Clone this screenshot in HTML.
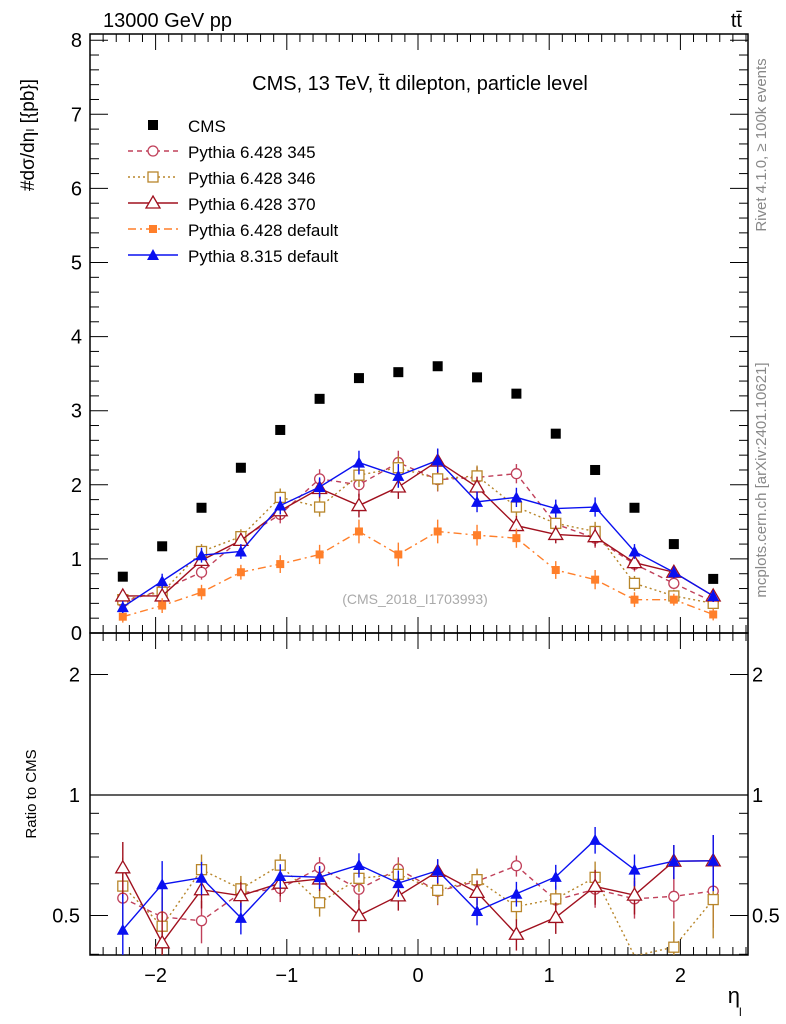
<!DOCTYPE html>
<html><head><meta charset="utf-8"><style>
html,body{margin:0;padding:0;background:#fff;width:786px;height:1024px;overflow:hidden;font-family:"Liberation Sans",sans-serif}
svg{display:block}
svg text{font-family:"Liberation Sans",sans-serif}
</style></head><body>
<svg id="c" width="786" height="1024"></svg>
<script>
const xs=[-2.25,-1.95,-1.65,-1.35,-1.05,-0.75,-0.45,-0.15,0.15,0.45,0.75,1.05,1.35,1.65,1.95,2.25];
const cms=[0.76,1.17,1.69,2.23,2.74,3.16,3.44,3.52,3.60,3.45,3.23,2.69,2.20,1.69,1.20,0.73];
const p345=[0.42,0.58,0.82,1.27,1.60,2.08,2.00,2.30,2.07,2.10,2.15,1.47,1.28,0.93,0.67,0.42];
const p346=[0.45,0.55,1.10,1.30,1.83,1.70,2.13,2.23,2.08,2.12,1.70,1.48,1.37,0.67,0.50,0.40];
const p370=[0.50,0.50,0.98,1.25,1.65,1.95,1.72,1.97,2.32,1.97,1.45,1.33,1.30,0.95,0.82,0.50];
const p6d=[0.22,0.37,0.55,0.82,0.93,1.06,1.37,1.06,1.37,1.32,1.28,0.85,0.72,0.45,0.45,0.25];
const p8=[0.35,0.70,1.05,1.10,1.72,1.97,2.30,2.12,2.33,1.77,1.83,1.68,1.70,1.10,0.82,0.50];
const errs=[0.08,0.1,0.1,0.1,0.12,0.13,0.16,0.16,0.16,0.14,0.13,0.12,0.13,0.1,0.08,0.08];
const yTicks=[0,1,2,3,4,5,6,7,8];
const xTicks=[-2,-1,0,1,2];
const xTickLabels=["\u22122","\u22121","0","1","2"];
const rTicks=[0.5,1,2];

const S=document.getElementById('c'),NS='http://www.w3.org/2000/svg';
const L=90,R=748,T=34,B=633,RB=955;
const X=v=>418+v*131.2;
const Y=v=>633-v*74.1;
const RY=v=>795-Math.log2(v)*120.5;
function el(t,a,p){const e=document.createElementNS(NS,t);for(const k in a)e.setAttribute(k,a[k]);(p||S).appendChild(e);return e;}
function tx(x,y,s,o,p){const e=el('text',Object.assign({x:x,y:y,'font-size':20,fill:'#000'},o||{}),p);e.textContent=s;return e;}

const f1=el('rect',{x:L,y:T,width:R-L,height:B-T,fill:'none',stroke:'#000','stroke-width':1.5});

const f2=el('rect',{x:L,y:B,width:R-L,height:RB-B,fill:'none',stroke:'#000','stroke-width':1.5});

el('line',{x1:L,x2:R,y1:RY(1),y2:RY(1),stroke:'#000','stroke-width':1.2});

for(let v=-2.5;v<=2.5001;v+=0.1){const x=X(v);if(x<L||x>R)continue;const maj=Math.abs(v-Math.round(v))<1e-6;const h=maj?16:8;
 el('line',{x1:x,x2:x,y1:B,y2:B-h,stroke:'#000'});el('line',{x1:x,x2:x,y1:T,y2:T+h,stroke:'#000'});
 el('line',{x1:x,x2:x,y1:RB,y2:RB-h,stroke:'#000'});el('line',{x1:x,x2:x,y1:B,y2:B+h,stroke:'#000'});}
xTicks.forEach((v,i)=>{const t=tx(X(v),982,xTickLabels[i],{'text-anchor':'middle'});});
for(let v=0;v<=8.0001;v+=0.2){const y=Y(v);const maj=Math.abs(v-Math.round(v))<1e-6;const h=maj?18:9;
 el('line',{x1:L,x2:L+h,y1:y,y2:y,stroke:'#000'});el('line',{x1:R,x2:R-h,y1:y,y2:y,stroke:'#000'});}
yTicks.forEach(v=>{const t=tx(82,Y(v)+7,String(v),{'text-anchor':'end'});});
[0.4,0.5,0.6,0.7,0.8,0.9,1,2].forEach(v=>{const y=RY(v);const maj=rTicks.includes(v);const h=maj?18:9;
 el('line',{x1:L,x2:L+h,y1:y,y2:y,stroke:'#000'});el('line',{x1:R,x2:R-h,y1:y,y2:y,stroke:'#000'});});
rTicks.forEach(v=>{tx(80,RY(v)+7,String(v),{'text-anchor':'end'});tx(752,RY(v)+7,String(v));});

tx(103,27,'13000 GeV pp');
tx(742,27,'t\u0074\u0304',{'text-anchor':'end'});
tx(420,90,'CMS, 13 TeV, t\u0304t dilepton, particle level',{'text-anchor':'middle'});
tx(415,604,'(CMS_2018_I1703993)',{'text-anchor':'middle','font-size':14,fill:'#aaa'});
tx(740,1003,'\u03B7',{'font-size':22,'text-anchor':'end'});
tx(739,1016,'l',{'font-size':12});
const yl=tx(0,0,'#d\u03C3/d\u03B7\u2097 [{pb}]',{'font-size':19,transform:'translate(34,135) rotate(-90)','text-anchor':'middle'});

tx(0,0,'Ratio to CMS',{'font-size':15,'text-anchor':'middle',transform:'translate(36,794) rotate(-90)'});
tx(0,0,'Rivet 4.1.0, \u2265 100k events',{'font-size':15,fill:'#888','text-anchor':'middle',transform:'translate(766,145) rotate(-90)'});
tx(0,0,'mcplots.cern.ch [arXiv:2401.10621]',{'font-size':15,fill:'#888','text-anchor':'middle',transform:'translate(766,480) rotate(-90)'});

function marker(g,type,x,y,c){
 if(type==='sqf')el('rect',{x:x-5,y:y-5,width:10,height:10,fill:c},g);
 else if(type==='sqs')el('rect',{x:x-4,y:y-4,width:8,height:8,fill:c},g);
 else if(type==='circ')el('circle',{cx:x,cy:y,r:5,fill:'#fff',stroke:c,'stroke-width':1.3},g);
 else if(type==='sqo')el('rect',{x:x-5,y:y-5,width:10,height:10,fill:'#fff',stroke:c,'stroke-width':1.3},g);
 else if(type==='trio')el('path',{d:`M${x},${y-7}L${x+7},${y+5}L${x-7},${y+5}Z`,fill:'#fff',stroke:c,'stroke-width':1.3},g);
 else if(type==='trif')el('path',{d:`M${x},${y-6}L${x+6},${y+5}L${x-6},${y+5}Z`,fill:c},g);
}
const series=[
 {n:'Pythia 6.428 345',d:p345,c:'#c0405a',dash:'5,4',m:'circ',k:'pythia-345'},
 {n:'Pythia 6.428 346',d:p346,c:'#b8862b',dash:'2,3',m:'sqo',k:'pythia-346'},
 {n:'Pythia 6.428 370',d:p370,c:'#a0101e',dash:'',m:'trio',k:'pythia-370'},
 {n:'Pythia 6.428 default',d:p6d,c:'#ff7f2a',dash:'8,4,2,4',m:'sqs',k:'pythia6-default'},
 {n:'Pythia 8.315 default',d:p8,c:'#0a10f0',dash:'',m:'trif',k:'pythia8-default'}];

const defs=el('defs',{});const cp=el('clipPath',{id:'rc'},defs);el('rect',{x:L,y:B,width:R-L,height:RB-B},cp);
series.forEach(s=>{
 const g=el('g',{});
 const pts=xs.map((x,i)=>X(x)+','+Y(s.d[i])).join(' ');
 el('polyline',{points:pts,fill:'none',stroke:s.c,'stroke-width':1.4,'stroke-dasharray':s.dash},g);
 xs.forEach((x,i)=>{el('line',{x1:X(x),x2:X(x),y1:Y(s.d[i]-errs[i]),y2:Y(s.d[i]+errs[i]),stroke:s.c,'stroke-width':1.4},g);marker(g,s.m,X(x),Y(s.d[i]),s.c);});
 const rg=el('g',{'clip-path':'url(#rc)'});
 const r=xs.map((x,i)=>s.d[i]/cms[i]);
 el('polyline',{points:xs.map((x,i)=>X(x)+','+RY(r[i])).join(' '),fill:'none',stroke:s.c,'stroke-width':1.4,'stroke-dasharray':s.dash},rg);
 xs.forEach((x,i)=>{if(r[i]<0.4)return;const e=errs[i]/cms[i];el('line',{x1:X(x),x2:X(x),y1:RY(Math.max(r[i]-e,0.05)),y2:RY(r[i]+e),stroke:s.c,'stroke-width':1.4},rg);marker(rg,s.m,X(x),RY(r[i]),s.c);});
});
const cg=el('g',{});
xs.forEach((x,i)=>marker(cg,'sqf',X(x),Y(cms[i]),'#000'));

const lg=el('g',{});
marker(lg,'sqf',153,125,'#000');tx(188,132,'CMS',{'font-size':17},lg);
series.forEach((s,i)=>{const y=151+i*26;
 el('line',{x1:128,x2:178,y1:y,y2:y,stroke:s.c,'stroke-width':1.4,'stroke-dasharray':s.dash},lg);
 marker(lg,s.m,153,y,s.c);
 const t=tx(188,y+7,s.n,{'font-size':17},lg);});
</script>
</body></html>
